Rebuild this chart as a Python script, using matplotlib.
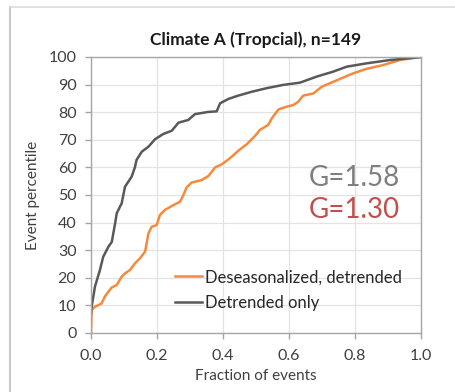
import matplotlib
matplotlib.use("Agg")
import matplotlib.pyplot as plt
from matplotlib.lines import Line2D

plt.rcParams['font.family'] = ['Lato', 'DejaVu Sans']

# Detrended only (grey curve)
grey_x = [0.0, 0.002, 0.012, 0.027, 0.037, 0.053, 0.063, 0.073, 0.078, 0.093, 0.103,
          0.123, 0.133, 0.138, 0.154, 0.174, 0.194, 0.219, 0.245, 0.265, 0.295, 0.315,
          0.355, 0.381, 0.391, 0.416, 0.446, 0.487, 0.532, 0.583, 0.633, 0.684, 0.734,
          0.775, 0.835, 0.906, 1.0]
grey_y = [7.0, 9.5, 16.8, 22.8, 27.6, 31.3, 33.0, 39.7, 43.4, 47.0, 53.0,
          56.6, 60.0, 62.7, 65.7, 67.5, 70.2, 72.1, 73.3, 76.2, 77.2, 79.3,
          80.1, 80.3, 83.2, 84.8, 86.0, 87.4, 88.7, 89.9, 90.7, 92.9, 94.7,
          96.5, 97.7, 98.9, 100.0]

# Deseasonalized, detrended (orange curve)
orange_x = [0.0, 0.002, 0.012, 0.032, 0.042, 0.053, 0.063, 0.078, 0.093, 0.103, 0.118,
            0.133, 0.148, 0.164, 0.174, 0.184, 0.199, 0.209, 0.224, 0.245, 0.27, 0.28,
            0.29, 0.305, 0.335, 0.356, 0.376, 0.396, 0.421, 0.446, 0.472, 0.497, 0.512,
            0.537, 0.548, 0.568, 0.593, 0.613, 0.628, 0.643, 0.674, 0.699, 0.734, 0.765,
            0.795, 0.835, 0.886, 0.936, 1.0]
orange_y = [0.0, 8.3, 9.5, 10.7, 13.2, 15.0, 16.5, 17.4, 20.4, 21.6, 22.8,
            25.2, 27.0, 29.5, 36.1, 38.5, 39.1, 42.8, 44.6, 46.0, 47.6, 50.0,
            52.8, 54.5, 55.4, 56.9, 60.0, 61.1, 63.3, 66.0, 68.4, 71.4, 73.6,
            75.4, 77.8, 81.0, 82.0, 82.6, 83.8, 86.0, 86.8, 89.2, 91.0, 92.6,
            94.1, 95.7, 97.1, 98.9, 100.0]

g_values = ["G=1.58", "G=1.30"]

fig = plt.figure(figsize=(4.56, 3.92), dpi=100)
ax = fig.add_axes([91/456, 59/392, 330/456, 276/392])

ax.plot(orange_x, orange_y, color='#f58a3c', lw=1.8, label='Deseasonalized, detrended')
ax.plot(grey_x, grey_y, color='#595959', lw=1.8, label='Detrended only')

ax.set_xlim(0, 1)
ax.set_ylim(0, 100)
ax.set_xticks([0, 0.2, 0.4, 0.6, 0.8, 1.0])
ax.set_xticklabels(['0.0', '0.2', '0.4', '0.6', '0.8', '1.0'])
ax.set_yticks(range(0, 101, 10))
ax.grid(True, color='#e3e3e3', lw=0.9)
ax.set_axisbelow(True)
for s in ax.spines.values():
    s.set_color('#a6a6a6')
    s.set_linewidth(1.0)
ax.tick_params(colors='#a6a6a6', labelcolor='#404040', labelsize=11.5, length=4.5, width=1)
ax.tick_params(axis='x', pad=7)
ax.tick_params(axis='y', pad=6)

ax.set_title('Climate A (Tropcial), n=149', fontsize=12.5, fontweight='bold',
             color='#1a1a1a', pad=9)
ax.set_xlabel('Fraction of events', fontsize=11, color='#404040', labelpad=4)
ax.set_ylabel('Event percentile', fontsize=11, color='#404040', labelpad=6)

ax.text(0.936, 0.562, g_values[0], transform=ax.transAxes, ha='right', va='center',
        fontsize=20, color='#7f7f7f')
ax.text(0.936, 0.446, g_values[1], transform=ax.transAxes, ha='right', va='center',
        fontsize=20, color='#c0504d')

ax.legend(loc='lower left', bbox_to_anchor=(0.235, 0.055), frameon=False,
          fontsize=12, handlelength=1.6, handletextpad=0.2, labelspacing=0.6,
          labelcolor='#262626', borderaxespad=0)

# light frame of the chart box
fig.add_artist(Line2D([10/456, 10/456], [0, 385/392], color='#c8c8c8', lw=1.5,
                      transform=fig.transFigure))
fig.add_artist(Line2D([10/456, 1], [385/392, 385/392], color='#dcdcdc', lw=1.2,
                      transform=fig.transFigure))

fig.savefig('out.png', dpi=100)
